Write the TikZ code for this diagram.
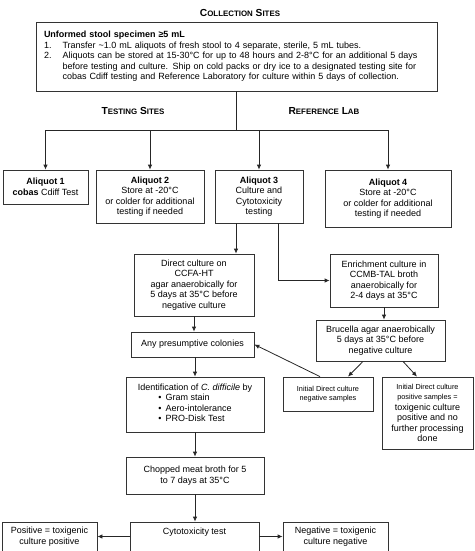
\documentclass[tikz,border=0pt]{standalone}
\usepackage{fontspec}
\setmainfont{Liberation Sans}
\usetikzlibrary{arrows.meta}
\tikzset{
>={Latex[length=5pt,width=4.5pt]},
box/.style={draw=black!80, line width=0.8pt, align=center, inner sep=1pt, font=\fontsize{9}{10.5}\selectfont},
conn/.style={draw=black!85, line width=0.8pt},
lbl/.style={font=\bfseries}
}
\newcommand\scap[2]{{\fontsize{10.2}{11}\selectfont #1}{\fontsize{7.9}{9}\selectfont #2}}
\begin{document}
\begin{tikzpicture}[x=1pt,y=-1pt]
 \useasboundingbox (0,0) rectangle (474,551);
 \node[lbl] (collect) at (240,13) {\scap{C}{OLLECTION} \scap{S}{ITES}};
 \node[box, minimum width=401pt, minimum height=69pt, text width=385pt, align=left] (stool) at (236.5,56.5) {\begin{tabular}{@{}l@{\hspace{11pt}}l@{}}
 \multicolumn{2}{@{}l}{\bfseries Unformed stool specimen ≥5 mL}\\
 1. & Transfer \textasciitilde1.0 mL aliquots of fresh stool to 4 separate, sterile, 5 mL tubes.\\
 2. & Aliquots can be stored at 15-30°C for up to 48 hours and 2-8°C for an additional 5 days\\
    & before testing and culture. Ship on cold packs or dry ice to a designated testing site for\\
    & cobas Cdiff testing and Reference Laboratory for culture within 5 days of collection.
 \end{tabular}};
 \node[lbl] (testing) at (133,111) {\scap{T}{ESTING} \scap{S}{ITES}};
 \node[lbl] (reflab) at (324,111) {\scap{R}{EFERENCE} \scap{L}{AB}};
 \node[box, minimum width=85pt, minimum height=34pt] (aliq1) at (45.5,187) {\textbf{Aliquot 1}\\\textbf{cobas} Cdiff Test};
 \node[box, minimum width=108pt, minimum height=53pt] (aliq2) at (150,196.5) {\textbf{Aliquot 2}\\Store at -20°C\\or colder for additional\\testing if needed};
 \node[box, minimum width=88pt, minimum height=53pt] (aliq3) at (259,196.5) {\textbf{Aliquot 3}\\Culture and\\Cytotoxicity\\testing};
 \node[box, minimum width=126pt, minimum height=57pt] (aliq4) at (388,198.5) {\textbf{Aliquot 4}\\Store at -20°C\\or colder for additional\\testing if needed};
 \node[box, minimum width=120pt, minimum height=62pt] (direct) at (194,285) {Direct culture on\\CCFA-HT\\agar anaerobically for\\5 days at 35°C before\\negative culture};
 \node[box, minimum width=108pt, minimum height=53pt] (enrich) at (384,280.5) {Enrichment culture in\\CCMB-TAL broth\\anaerobically for\\2-4 days at 35°C};
 \node[box, minimum width=129pt, minimum height=41pt] (brucella) at (380.5,340.5) {Brucella agar anaerobically\\5 days at 35°C before\\negative culture};
 \node[box, minimum width=123pt, minimum height=25pt] (colonies) at (192.5,344.5) {Any presumptive colonies};
 \node[box, minimum width=90pt, minimum height=34pt, font=\fontsize{7.3}{9}\selectfont] (dcneg) at (328,394) {Initial Direct culture\\negative samples};
 \node[box, minimum width=91pt, minimum height=72pt] (dcpos) at (427.5,413) {{\fontsize{7.3}{9}\selectfont Initial Direct culture}\\{\fontsize{7.3}{9}\selectfont positive samples =}\\toxigenic culture\\positive and no\\further processing\\done};
 \node[box, minimum width=138pt, minimum height=55pt] (ident) at (195,404.5) {Identification of \textit{C. difficile} by\\\begin{tabular}[t]{@{}l@{}}\textbullet\hspace{4pt}Gram stain\\\textbullet\hspace{4pt}Aero-intolerance\\\textbullet\hspace{4pt}PRO-Disk Test\end{tabular}};
 \node[box, minimum width=138pt, minimum height=37pt] (chopped) at (195,475.5) {Chopped meat broth for 5\\to 7 days at 35°C};
 \node[box, minimum width=129pt, minimum height=29pt, text depth=11pt] (cyto) at (194.5,536.5) {Cytotoxicity test};
 \node[box, minimum width=95pt, minimum height=29pt] (toxpos) at (49.5,536.5) {Positive = toxigenic\\culture positive};
 \node[box, minimum width=105pt, minimum height=29pt] (toxneg) at (335.5,536.5) {Negative = toxigenic\\culture negative};
 \coordinate (split) at (236.5,130);
 \draw[conn] (stool.south) -- (split);
 \draw[conn] (aliq1.north |- split) -- (aliq4.north |- split);
 \foreach \n in {aliq1,aliq2,aliq3,aliq4} \draw[conn,->] (\n.north |- split) -- (\n.north);
 \draw[conn,->] ([xshift=-23pt]aliq3.south) -- ([xshift=-23pt]aliq3.south |- direct.north);
 \draw[conn,->] ([xshift=19pt]aliq3.south) |- (enrich.west);
 \draw[conn,->] (enrich.south) -- (enrich.south |- brucella.north);
 \draw[conn,->] (direct.south) -- (direct.south |- colonies.north);
 \draw[conn,->] ([xshift=-17.5pt]brucella.south) -- ([xshift=20pt]dcneg.north);
 \draw[conn,->] ([xshift=22.5pt]brucella.south) -- ([xshift=-10.5pt]dcpos.north);
 \draw[conn,->] ([xshift=-8pt]dcneg.north) -- (colonies.east);
 \draw[conn,->] (ident.north |- colonies.south) -- (ident.north);
 \draw[conn,->] (ident.south) -- (chopped.north);
 \draw[conn,->] (chopped.south) -- (chopped.south |- cyto.north);
 \draw[conn,->] (cyto.west) -- (toxpos.east);
 \draw[conn,->] (cyto.east) -- (toxneg.west);
\end{tikzpicture}
\end{document}
